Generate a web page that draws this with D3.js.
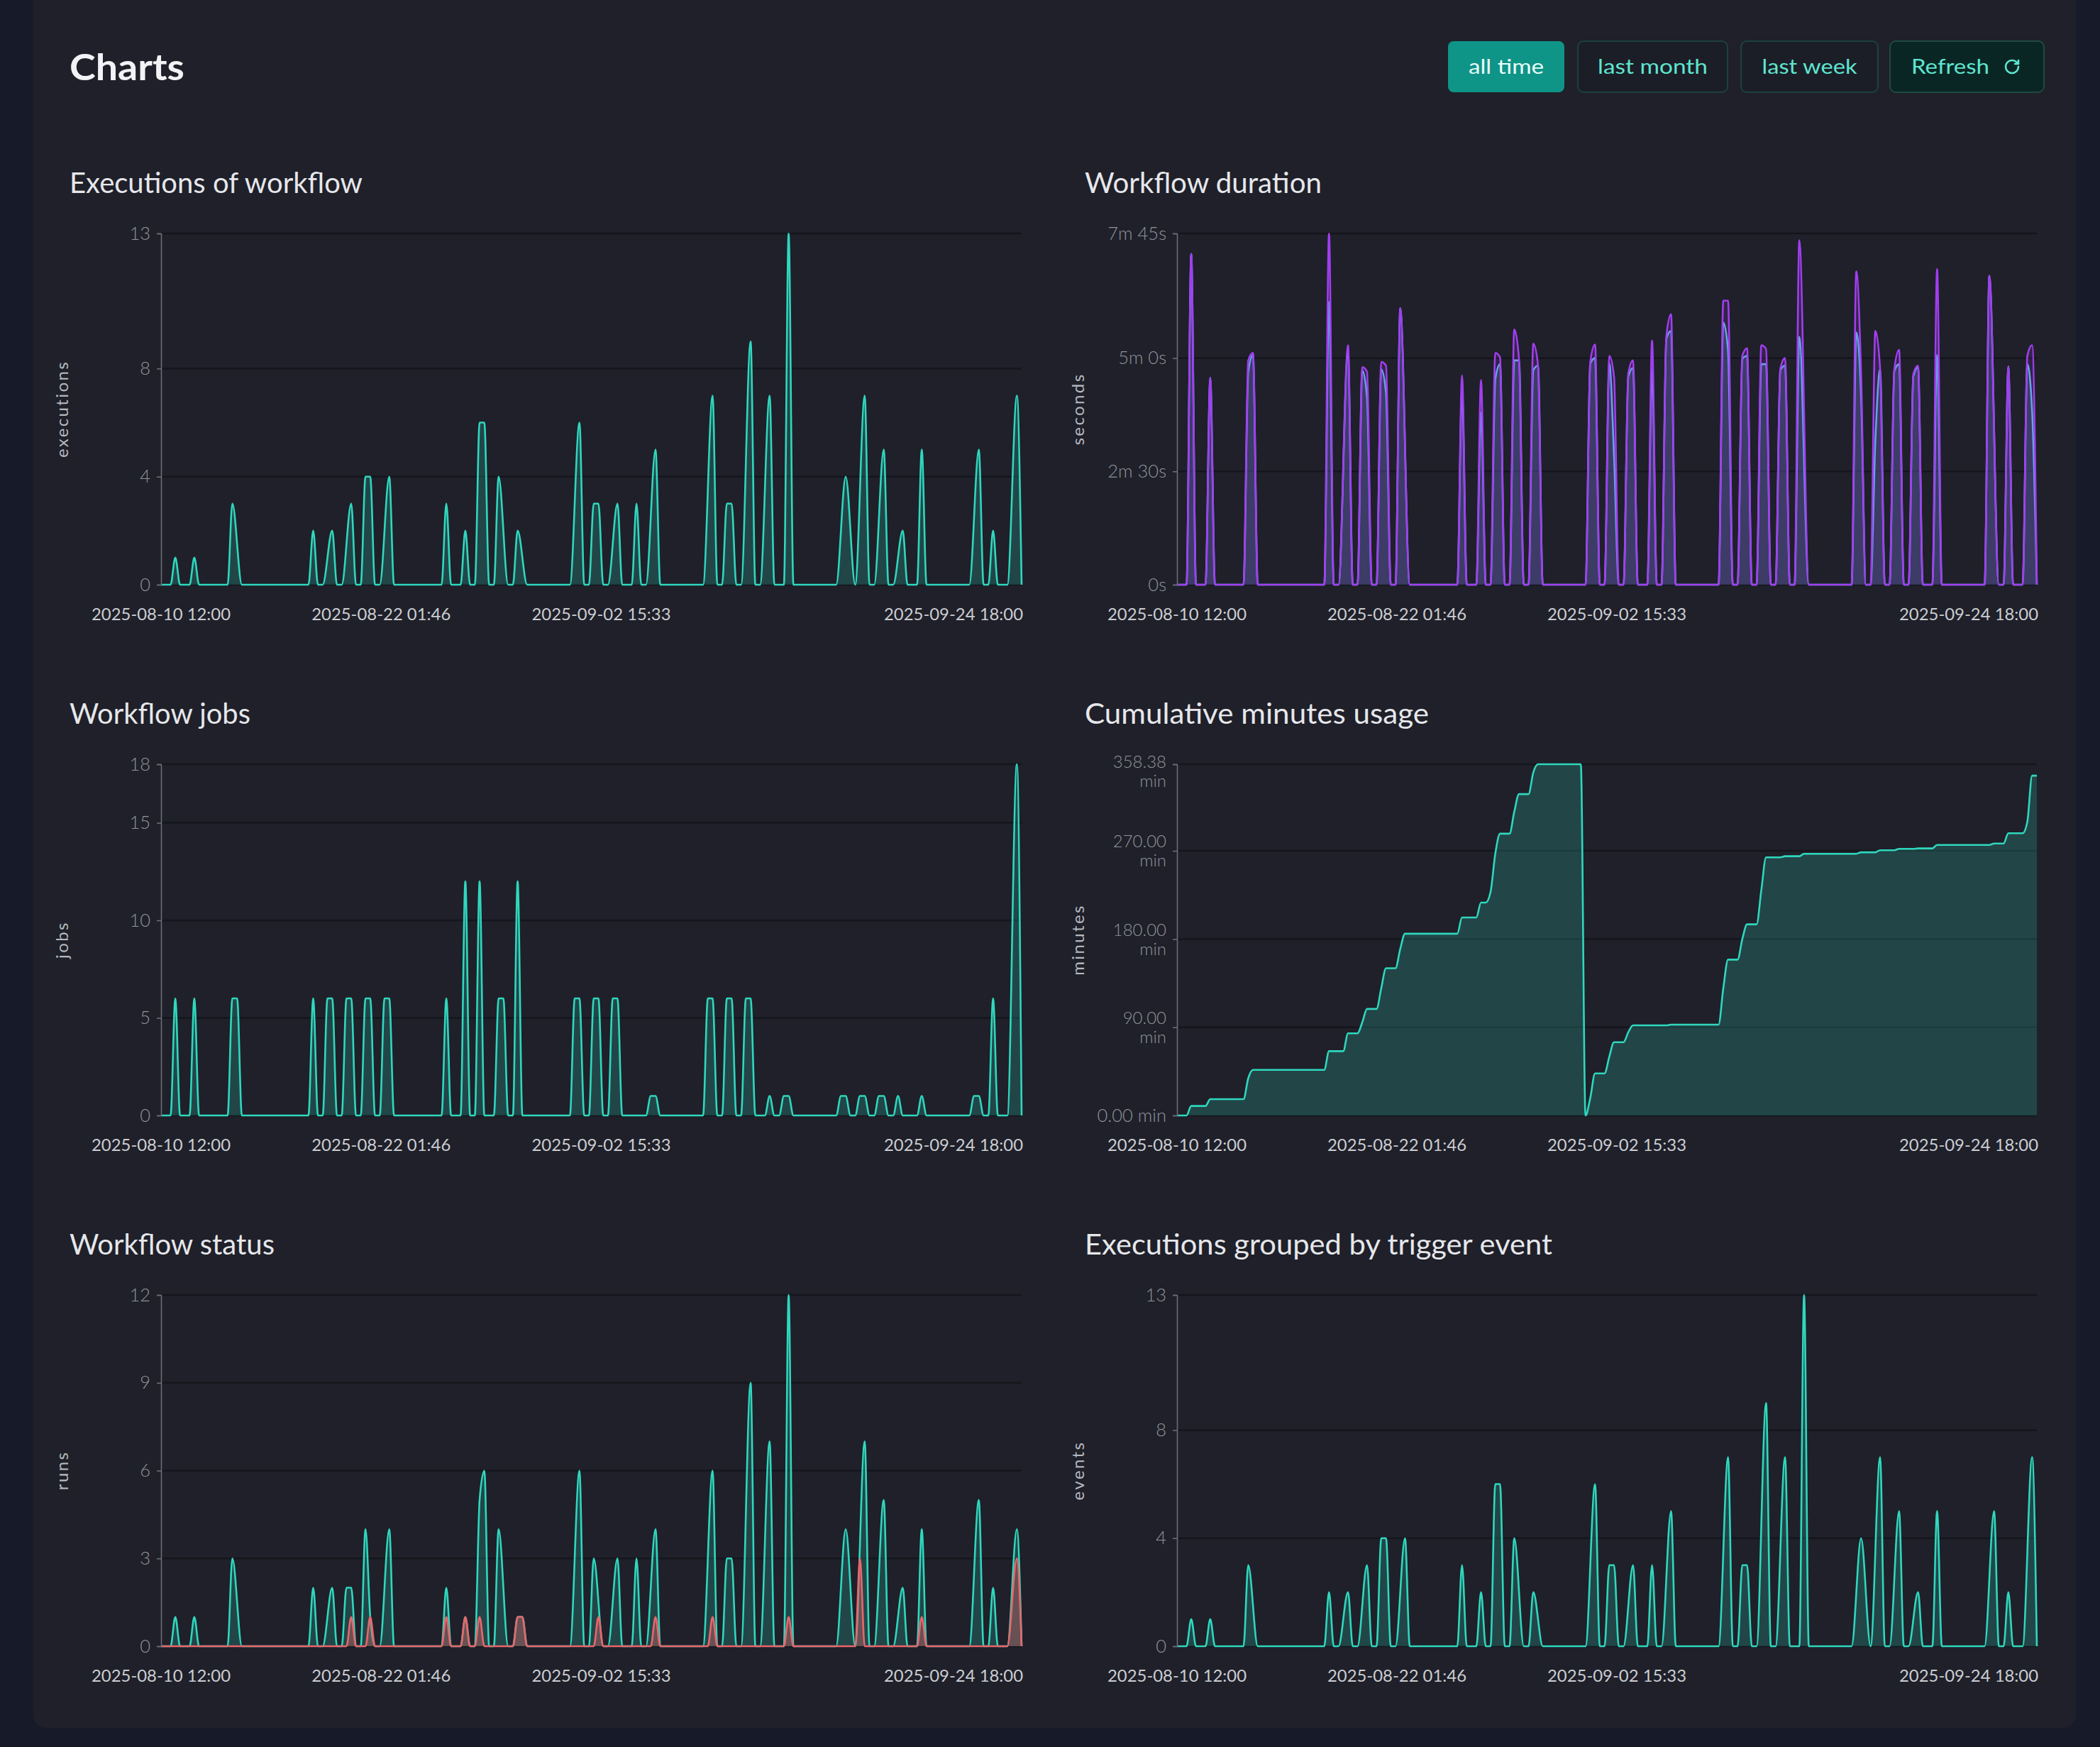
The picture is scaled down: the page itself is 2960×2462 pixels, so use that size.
<!DOCTYPE html>
<html><head><meta charset="utf-8">
<script src="https://cdn.jsdelivr.net/npm/d3@7"></script>
<style>
html,body{margin:0;padding:0;background:#171a28;}
svg{display:block}
</style></head>
<body><svg id="c" width="2960" height="2462"></svg>
<script>
// ---------------- DATA ----------------
// time axis: points are 6-hour slots counted from the start time
const startLabel = "2025-08-10 12:00";
const endLabel = "2025-09-24 18:00";
const slotHours = 6;
const xTickLabels = ["2025-08-10 12:00", "2025-08-22 01:46", "2025-09-02 15:33", "2025-09-24 18:00"];

const buttonLabels = ["all time", "last month", "last week", "Refresh"];
const chartTitles = ["Executions of workflow", "Workflow duration", "Workflow jobs",
  "Cumulative minutes usage", "Workflow status", "Executions grouped by trigger event"];
const yAxisTitles = ["executions", "seconds", "jobs", "minutes", "runs", "events"];

const execTicks = [0, 4, 8, 13];
const durationTicks = [0, 150, 300, 465];
const jobsTicks = [0, 5, 10, 15, 18];
const minutesTicks = [0, 90, 180, 270, 358.38];
const statusTicks = [0, 3, 6, 9, 12];
const eventTicks = [0, 4, 8, 13];

// [slot, executions]
const executionsPts = [[0,0],[2,0],[3,1],[4,0],[6,0],[7,1],[8,0],[14,0],[15,3],[17,0],[31,0],[32,2],[33,0],[34,0],[36,2],[37,0],[38,0],[40,3],[41,0],[42,0],[43,4],[44,4],[45,0],[46,0],[48,4],[49,0],[59,0],[60,3],[61,0],[63,0],[64,2],[65,0],[66,0],[67,6],[68,6],[69,0],[70,0],[71,4],[73,0],[74,0],[75,2],[77,0],[86,0],[88,6],[89,0],[90,0],[91,3],[92,3],[93,0],[94,0],[96,3],[97,0],[99,0],[100,3],[101,0],[102,0],[104,5],[105,0],[114,0],[116,7],[117,0],[118,0],[119,3],[120,3],[121,0],[122,0],[124,9],[125,0],[126,0],[128,7],[129,0],[131,0],[132,13],[133,0],[142,0],[144,4],[146,0],[148,7],[149,0],[150,0],[152,5],[153,0],[154,0],[156,2],[157,0],[159,0],[160,5],[161,0],[170,0],[172,5],[173,0],[174,0],[175,2],[176,0],[178,0],[180,7],[181,0]];

// [slot, seconds] maximum duration
const durationMaxPts = [[0,0],[2,0],[3,438],[4,0],[6,0],[7,274],[8,0],[14,0],[15,297],[16,307],[17,0],[31,0],[32,465],[33,0],[34,0],[36,317],[37,0],[38,0],[39,288],[40,282],[41,0],[42,0],[43,295],[44,290],[45,0],[46,0],[47,366],[49,0],[59,0],[60,277],[61,0],[63,0],[64,271],[65,0],[66,0],[67,307],[68,301],[69,0],[70,0],[71,338],[72,298],[73,0],[74,0],[75,319],[76,290],[77,0],[86,0],[87,295],[88,318],[89,0],[90,0],[91,303],[92,275],[93,0],[94,0],[95,280],[96,297],[97,0],[99,0],[100,323],[101,0],[102,0],[103,328],[104,358],[105,0],[114,0],[115,376],[116,376],[117,0],[118,0],[119,303],[120,313],[121,0],[122,0],[123,317],[124,312],[125,0],[126,0],[127,286],[128,300],[129,0],[130,0],[131,456],[133,0],[142,0],[143,415],[144,280],[145,0],[146,0],[147,336],[148,286],[149,0],[150,0],[151,285],[152,311],[153,0],[154,0],[155,279],[156,290],[157,0],[159,0],[160,418],[161,0],[170,0],[171,409],[173,0],[174,0],[175,289],[176,0],[178,0],[179,303],[180,317],[181,0]];

// [slot, seconds] average duration
const durationAvgPts = [[0,0],[2,0],[3,438],[4,0],[6,0],[7,274],[8,0],[14,0],[15,282],[16,304],[17,0],[31,0],[32,374],[33,0],[34,0],[36,310],[37,0],[38,0],[39,284],[40,248],[41,0],[42,0],[43,285],[44,254],[45,0],[46,0],[47,366],[49,0],[59,0],[60,258],[61,0],[63,0],[64,228],[65,0],[66,0],[67,272],[68,292],[69,0],[70,0],[71,297],[72,297],[73,0],[74,0],[75,284],[76,290],[77,0],[86,0],[87,293],[88,300],[89,0],[90,0],[91,293],[92,170],[93,0],[94,0],[95,275],[96,287],[97,0],[99,0],[100,285],[101,0],[102,0],[103,325],[104,336],[105,0],[114,0],[115,347],[116,310],[117,0],[118,0],[119,299],[120,303],[121,0],[122,0],[123,292],[124,292],[125,0],[126,0],[127,284],[128,290],[129,0],[130,0],[131,328],[133,0],[142,0],[143,334],[144,250],[145,0],[146,0],[147,190],[148,285],[149,0],[150,0],[151,283],[152,292],[153,0],[154,0],[155,276],[156,288],[157,0],[159,0],[160,304],[161,0],[170,0],[171,409],[173,0],[174,0],[175,289],[176,0],[178,0],[179,292],[180,230],[181,0]];

// [slot, jobs]
const jobsPts = [[0,0],[2,0],[3,6],[4,0],[6,0],[7,6],[8,0],[14,0],[15,6],[16,6],[17,0],[31,0],[32,6],[33,0],[34,0],[35,6],[36,6],[37,0],[38,0],[39,6],[40,6],[41,0],[42,0],[43,6],[44,6],[45,0],[46,0],[47,6],[48,6],[49,0],[59,0],[60,6],[61,0],[63,0],[64,12],[65,0],[66,0],[67,12],[68,0],[70,0],[71,6],[72,6],[73,0],[74,0],[75,12],[76,0],[86,0],[87,6],[88,6],[89,0],[90,0],[91,6],[92,6],[93,0],[94,0],[95,6],[96,6],[97,0],[102,0],[103,1],[104,1],[105,0],[114,0],[115,6],[116,6],[117,0],[118,0],[119,6],[120,6],[121,0],[122,0],[123,6],[124,6],[125,0],[127,0],[128,1],[129,0],[130,0],[131,1],[132,1],[133,0],[142,0],[143,1],[144,1],[145,0],[146,0],[147,1],[148,1],[149,0],[150,0],[151,1],[152,1],[153,0],[154,0],[155,1],[156,0],[159,0],[160,1],[161,0],[170,0],[171,1],[172,1],[173,0],[174,0],[175,6],[176,0],[178,0],[180,18],[181,0]];

// [slot, cumulative minutes] (resets at the start of September)
const cumulativeMinutesPts = [[0,0],[2,0],[3,9.7],[6,9.7],[7,16.6],[14,16.6],[15,38],[16,46.5],[31,46.5],[32,65.6],[35,65.6],[36,83.8],[38,83.8],[39,95],[40,108.7],[42,108.7],[43,130],[44,150.2],[46,150.2],[47,170],[48,185.4],[59,185.4],[60,202],[63,202],[64,217.2],[65,217.2],[66,228],[67,267],[68,287.5],[70,287.5],[71,310],[72,327.9],[74,327.9],[75,350],[76,358.38],[85,358.38],[86,0],[87,18],[88,42.9],[90,42.9],[91,60],[92,74.7],[94,74.7],[95,85],[96,91.9],[103,91.9],[104,92.7],[114,92.7],[115,130],[116,159],[118,159],[119,180],[120,195],[122,195],[123,230],[124,263.4],[127,263.4],[128,264.5],[131,264.5],[132,267],[143,267],[144,268.5],[147,268.5],[148,270.6],[151,270.6],[152,272],[155,272],[156,272.5],[159,272.5],[160,276],[171,276],[172,277.5],[174,277.5],[175,288],[178,288],[179,300],[180,346.7],[181,346.7]];

// [slot, runs] successful
const statusSuccessPts = [[0,0],[2,0],[3,1],[4,0],[6,0],[7,1],[8,0],[14,0],[15,3],[17,0],[31,0],[32,2],[33,0],[34,0],[36,2],[37,0],[38,0],[39,2],[40,2],[41,0],[42,0],[43,4],[44,1],[45,0],[46,0],[48,4],[49,0],[59,0],[60,2],[61,0],[63,0],[64,1],[65,0],[66,0],[67,5],[68,6],[69,0],[70,0],[71,4],[73,0],[74,0],[75,1],[76,1],[77,0],[86,0],[88,6],[89,0],[90,0],[91,3],[93,0],[94,0],[96,3],[97,0],[99,0],[100,3],[101,0],[102,0],[104,4],[105,0],[114,0],[116,6],[117,0],[118,0],[119,3],[120,3],[121,0],[122,0],[124,9],[125,0],[126,0],[128,7],[129,0],[131,0],[132,12],[133,0],[142,0],[144,4],[146,0],[148,7],[149,0],[150,0],[152,5],[153,0],[154,0],[156,2],[157,0],[159,0],[160,4],[161,0],[170,0],[172,5],[173,0],[174,0],[175,2],[176,0],[178,0],[180,4],[181,0]];

// [slot, runs] failed
const statusFailurePts = [[0,0],[39,0],[40,1],[41,0],[43,0],[44,1],[45,0],[59,0],[60,1],[61,0],[63,0],[64,1],[65,0],[66,0],[67,1],[68,0],[74,0],[75,1],[76,1],[77,0],[91,0],[92,1],[93,0],[103,0],[104,1],[105,0],[115,0],[116,1],[117,0],[131,0],[132,1],[133,0],[146,0],[147,3],[148,0],[159,0],[160,1],[161,0],[178,0],[180,3],[181,0]];

// [slot, events] (single trigger event, same counts as executions)
const triggerEventPts = executionsPts;

// ---------------- DRAWING ----------------
const W = 2960, H = 2462;
const FONT = "Lato, 'Open Sans', 'Noto Sans', sans-serif";
const svg = d3.select("#c");
const parseT = d3.timeParse("%Y-%m-%d %H:%M");
const t0 = parseT(startLabel), t1 = parseT(endLabel);
const slotDate = s => d3.timeHour.offset(t0, s * slotHours);

const TEAL = "#2fd7be", TEAL_FILL = "rgba(45,212,191,0.21)";
const PURPLE = "#a13ef0", PURPLE_FILL = "rgba(160,62,240,0.15)";
const BLUE = "#5fb2e8", BLUE_FILL = "rgba(95,176,232,0.20)";
const RED = "#e8666c", RED_FILL = "rgba(232,102,108,0.35)";

svg.append("rect").attr("width", W).attr("height", H).attr("fill", "#171a28");
svg.append("rect").attr("x", 47).attr("y", -30).attr("width", 2879).attr("height", 2465)
  .attr("rx", 18).attr("fill", "#1f2029");

// header
svg.append("text").attr("x", 98).attr("y", 113).text("Charts")
  .attr("font-family", FONT).attr("font-weight", 700).attr("font-size", 52)
  .attr("fill", "#f2f3f5").attr("textLength", 162).attr("lengthAdjust", "spacingAndGlyphs");

const btnGeom = [
  {x: 2041, w: 164, fill: "#0f9488", stroke: "none", color: "#eafffa", tw: 106},
  {x: 2224, w: 211, fill: "#1c1e27", stroke: "#1d4140", color: "#5ee6d0", tw: 155},
  {x: 2454, w: 193, fill: "#1c1e27", stroke: "#1d4140", color: "#5ee6d0", tw: 134},
  {x: 2664, w: 217, fill: "#0a2624", stroke: "#1f4a46", color: "#5ee6d0", tw: 110}
];
buttonLabels.forEach((lbl, i) => {
  const b = btnGeom[i];
  svg.append("rect").attr("x", b.x).attr("y", 58).attr("width", b.w).attr("height", 72).attr("rx", 8)
    .attr("fill", b.fill).attr("stroke", b.stroke).attr("stroke-width", 2);
  const isRefresh = i === buttonLabels.length - 1;
  svg.append("text").attr("x", isRefresh ? 2694 : b.x + b.w / 2).attr("y", 104)
    .attr("text-anchor", isRefresh ? "start" : "middle").text(lbl)
    .attr("font-family", FONT).attr("font-size", 29).attr("fill", b.color)
    .attr("textLength", b.tw).attr("lengthAdjust", "spacingAndGlyphs");
  if (isRefresh) {
    const ic = svg.append("g").attr("transform", "translate(2824,82)")
      .attr("fill", "none").attr("stroke", b.color).attr("stroke-width", 2.6)
      .attr("stroke-linecap", "round").attr("stroke-linejoin", "round");
    ic.append("path").attr("d", "M21 12a9 9 0 1 1-9-9c2.52 0 4.93 1 6.74 2.74L21 8");
    ic.append("path").attr("d", "M21 3v5h-5");
  }
});

const cols = [{left: 227, right: 1440, titleX: 98}, {left: 1659, right: 2871, titleX: 1529}];
const rows = [{top: 329, bottom: 824, titleY: 272}, {top: 1077, bottom: 1572, titleY: 1020}, {top: 1825, bottom: 2320, titleY: 1768}];
const titleWidths = [413, 334, 255, 485, 289, 659];

const fmtInt = d => String(d);
const fmtDur = s => s === 0 ? "0s" : `${Math.floor(s / 60)}m ${s % 60}s`;
const fmtMin = v => `${v.toFixed(2)} min`;

const panels = [
  {col: 0, row: 0, yMax: 13, ticks: execTicks, fmt: fmtInt,
    series: [{pts: executionsPts, stroke: TEAL, fill: TEAL_FILL}]},
  {col: 1, row: 0, yMax: 465, ticks: durationTicks, fmt: fmtDur,
    series: [{pts: durationAvgPts, stroke: BLUE, fill: BLUE_FILL}, {pts: durationMaxPts, stroke: PURPLE, fill: PURPLE_FILL}]},
  {col: 0, row: 1, yMax: 18, ticks: jobsTicks, fmt: fmtInt,
    series: [{pts: jobsPts, stroke: TEAL, fill: TEAL_FILL}]},
  {col: 1, row: 1, yMax: 358.38, ticks: minutesTicks, fmt: fmtMin, wrap: true,
    series: [{pts: cumulativeMinutesPts, stroke: TEAL, fill: TEAL_FILL}]},
  {col: 0, row: 2, yMax: 12, ticks: statusTicks, fmt: fmtInt,
    series: [{pts: statusSuccessPts, stroke: TEAL, fill: TEAL_FILL}, {pts: statusFailurePts, stroke: RED, fill: RED_FILL}]},
  {col: 1, row: 2, yMax: 13, ticks: eventTicks, fmt: fmtInt,
    series: [{pts: triggerEventPts, stroke: TEAL, fill: TEAL_FILL}]}
];

panels.forEach((p, pi) => {
  const c = cols[p.col], r = rows[p.row];
  const g = svg.append("g");
  const x = d3.scaleTime().domain([t0, t1]).range([c.left, c.right]);
  const y = d3.scaleLinear().domain([0, p.yMax]).range([r.bottom, r.top]);

  g.append("text").attr("x", c.titleX).attr("y", r.titleY).text(chartTitles[pi])
    .attr("font-family", FONT).attr("font-size", 40).attr("fill", "#e6e7eb")
    .attr("textLength", titleWidths[pi]).attr("lengthAdjust", "spacingAndGlyphs");

  // grid
  g.append("g").selectAll("line").data(p.ticks).join("line")
    .attr("x1", c.left).attr("x2", c.right)
    .attr("y1", d => y(d)).attr("y2", d => y(d))
    .attr("stroke", "#15161d").attr("stroke-width", 2.5);

  // series
  p.series.forEach(s => {
    const pts = s.pts.map(q => ({t: slotDate(q[0]), v: q[1]}));
    const area = d3.area().x(d => x(d.t)).y0(y(0)).y1(d => y(d.v)).curve(d3.curveMonotoneX);
    const line = d3.line().x(d => x(d.t)).y(d => y(d.v)).curve(d3.curveMonotoneX);
    g.append("path").attr("d", area(pts)).attr("fill", s.fill);
    g.append("path").attr("d", line(pts)).attr("fill", "none").attr("stroke", s.stroke)
      .attr("stroke-width", 2.6).attr("stroke-linejoin", "round");
  });

  // y axis
  const ag = g.append("g").attr("transform", `translate(${c.left},0)`)
    .call(d3.axisLeft(y).tickValues(p.ticks).tickSize(6).tickPadding(9).tickFormat(p.fmt))
    .attr("font-family", FONT).attr("font-size", 25.5);
  ag.select(".domain").attr("stroke", "#6a6d78").attr("stroke-width", 1.6);
  ag.selectAll(".tick line").attr("stroke", "#6a6d78").attr("stroke-width", 1.6);
  ag.selectAll(".tick text").attr("fill", "#90939d").attr("font-weight", 300);
  if (p.wrap) {
    ag.selectAll(".tick text").each(function (d) {
      const lbl = p.fmt(d);
      if (lbl.length <= 8) return;
      const k = lbl.lastIndexOf(" ");
      const yT = y(d);
      const first = Math.max(yT - 13, r.top - 3) - yT;
      const el = d3.select(this).text(null).attr("font-size", 24);
      el.append("tspan").attr("x", -15).attr("y", first).attr("dy", "0.32em").text(lbl.slice(0, k));
      el.append("tspan").attr("x", -15).attr("y", first + 27).attr("dy", "0.32em").text(lbl.slice(k + 1));
    });
  }

  // y axis title
  g.append("text").attr("transform", `translate(${c.left - 139},${(r.top + r.bottom) / 2}) rotate(-90)`)
    .attr("text-anchor", "middle").attr("dy", "0.35em").text(yAxisTitles[pi])
    .attr("font-family", FONT).attr("font-size", 24).attr("letter-spacing", 2.4).attr("fill", "#b6b9c1");

  // x labels
  const xt = xTickLabels.map(parseT);
  const last = xt.length - 1;
  g.append("g").selectAll("text").data(xt).join("text")
    .attr("x", (d, i) => i === last ? x(d) + 2 : x(d))
    .attr("y", r.bottom + 50)
    .attr("text-anchor", (d, i) => i === last ? "end" : "middle")
    .text((d, i) => xTickLabels[i])
    .attr("font-family", FONT).attr("font-size", 23).attr("fill", "#cbcdd3")
    .attr("textLength", 196).attr("lengthAdjust", "spacingAndGlyphs");
});
</script></body></html>
